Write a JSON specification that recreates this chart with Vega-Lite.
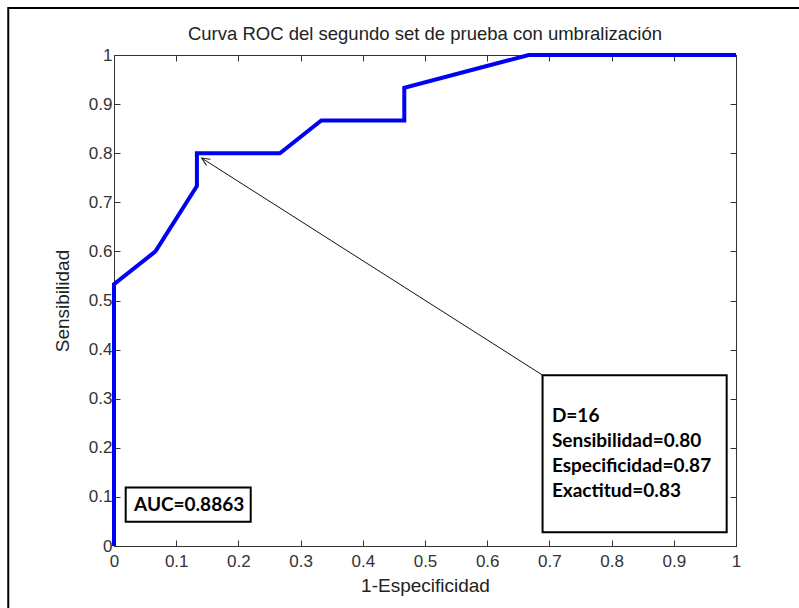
{
  "$schema": "https://vega.github.io/schema/vega-lite/v6.json",
  "width": 622,
  "height": 491,
  "autosize": {"type": "none"},
  "padding": {"left": 114, "top": 55, "right": 63, "bottom": 62},
  "background": "white",
  "title": {
    "text": "Curva ROC del segundo set de prueba con umbralización",
    "font": "Liberation Sans",
    "fontSize": 18.5,
    "fontWeight": "normal",
    "color": "#222222",
    "offset": -36,
    "anchor": "middle",
    "frame": "group"
  },
  "config": {
    "view": {"stroke": "#333333", "strokeWidth": 1},
    "axis": {
      "grid": false,
      "domainColor": "#333333",
      "tickColor": "#333333",
      "tickSize": -6,
      "labelFont": "Liberation Sans",
      "labelFontSize": 17,
      "labelColor": "#333333",
      "titleFont": "Liberation Sans",
      "titleFontSize": 19,
      "titleFontWeight": "normal",
      "titleColor": "#222222"
    }
  },
  "datasets": {
    "roc": [
      {"fpr": 0, "tpr": 0},
      {"fpr": 0, "tpr": 0.5333},
      {"fpr": 0.0667, "tpr": 0.6},
      {"fpr": 0.1333, "tpr": 0.7333},
      {"fpr": 0.1333, "tpr": 0.8},
      {"fpr": 0.2667, "tpr": 0.8},
      {"fpr": 0.3333, "tpr": 0.8667},
      {"fpr": 0.4667, "tpr": 0.8667},
      {"fpr": 0.4667, "tpr": 0.9333},
      {"fpr": 0.6667, "tpr": 1},
      {"fpr": 1, "tpr": 1}
    ]
  },
  "resolve": {"axis": {"x": "independent", "y": "independent"}},
  "layer": [
    {
      "data": {"name": "roc"},
      "mark": {"type": "line", "color": "#0000f5", "strokeWidth": 4, "strokeJoin": "miter"},
      "encoding": {
        "x": {
          "field": "fpr", "type": "quantitative",
          "scale": {"domain": [0, 1], "nice": false, "zero": false},
          "axis": {
            "title": "1-Especificidad",
            "values": [0, 0.1, 0.2, 0.3, 0.4, 0.5, 0.6, 0.7, 0.8, 0.9, 1],
            "format": ".1~f",
            "labelPadding": 13,
            "titlePadding": 7,
            "labelFlush": false
          }
        },
        "y": {
          "field": "tpr", "type": "quantitative",
          "scale": {"domain": [0, 1], "nice": false, "zero": false},
          "axis": {
            "title": "Sensibilidad",
            "values": [0, 0.1, 0.2, 0.3, 0.4, 0.5, 0.6, 0.7, 0.8, 0.9, 1],
            "format": ".1~f",
            "labelPadding": 8,
            "titlePadding": 16,
            "labelFlush": false
          }
        },
        "order": {"value": 0}
      }
    },
    {
      "data": {"name": "roc"},
      "mark": {"type": "line", "strokeOpacity": 0},
      "encoding": {
        "x": {
          "field": "fpr", "type": "quantitative",
          "axis": {"orient": "top", "labels": false, "title": null,
                   "values": [0, 0.1, 0.2, 0.3, 0.4, 0.5, 0.6, 0.7, 0.8, 0.9, 1]}
        },
        "y": {
          "field": "tpr", "type": "quantitative",
          "axis": {"orient": "right", "labels": false, "title": null,
                   "values": [0, 0.1, 0.2, 0.3, 0.4, 0.5, 0.6, 0.7, 0.8, 0.9, 1]}
        }
      }
    },
    {
      "data": {"values": [{}]},
      "mark": {"type": "rule", "color": "#111111", "strokeWidth": 1},
      "encoding": {
        "x": {"datum": 0.689, "type": "quantitative", "axis": null},
        "y": {"datum": 0.348, "type": "quantitative", "axis": null},
        "x2": {"datum": 0.141},
        "y2": {"datum": 0.790}
      }
    },
    {
      "data": {"values": [{}]},
      "mark": {
        "type": "point",
        "shape": "M -0.45 1 L 0 0 L 0.45 1",
        "filled": false,
        "stroke": "#111111",
        "strokeWidth": 1,
        "size": 256,
        "angle": -57.6,
        "opacity": 1
      },
      "encoding": {
        "x": {"datum": 0.141, "type": "quantitative", "axis": null},
        "y": {"datum": 0.790, "type": "quantitative", "axis": null}
      }
    },
    {
      "data": {"values": [{}]},
      "mark": {"type": "rect", "fill": "white", "stroke": "black", "strokeWidth": 2},
      "encoding": {
        "x": {"datum": 0.689, "type": "quantitative", "axis": null},
        "x2": {"datum": 0.985},
        "y": {"datum": 0.348, "type": "quantitative", "axis": null},
        "y2": {"datum": 0.028}
      }
    },
    {
      "data": {"values": [{}]},
      "mark": {"type": "rect", "fill": "white", "stroke": "black", "strokeWidth": 2},
      "encoding": {
        "x": {"datum": 0.0188, "type": "quantitative", "axis": null},
        "x2": {"datum": 0.2198},
        "y": {"datum": 0.119, "type": "quantitative", "axis": null},
        "y2": {"datum": 0.0495}
      }
    },
    {
      "data": {"values": [{"label": "AUC=0.8863"}]},
      "mark": {"type": "text", "font": "Lato", "fontWeight": "bold", "fontSize": 19, "align": "left", "baseline": "middle", "color": "black"},
      "encoding": {
        "x": {"datum": 0.0322, "type": "quantitative", "axis": null},
        "y": {"datum": 0.0835, "type": "quantitative", "axis": null},
        "text": {"field": "label"}
      }
    },
    {
      "data": {"values": [{"label": ["D=16", "Sensibilidad=0.80", "Especificidad=0.87", "Exactitud=0.83"]}]},
      "mark": {"type": "text", "font": "Lato", "fontWeight": "bold", "fontSize": 19, "align": "left", "baseline": "middle", "lineHeight": 24.9, "color": "black"},
      "encoding": {
        "x": {"datum": 0.704, "type": "quantitative", "axis": null},
        "y": {"datum": 0.2648, "type": "quantitative", "axis": null},
        "text": {"field": "label"}
      }
    },
    {
      "data": {"values": [{}]},
      "mark": {"type": "rect", "fill": null, "fillOpacity": 0, "stroke": "black", "strokeWidth": 2},
      "encoding": {
        "x": {"datum": -0.17, "type": "quantitative", "axis": null},
        "x2": {"datum": 1.3},
        "y": {"datum": 1.0957, "type": "quantitative", "axis": null},
        "y2": {"datum": -0.3}
      }
    }
  ]
}
